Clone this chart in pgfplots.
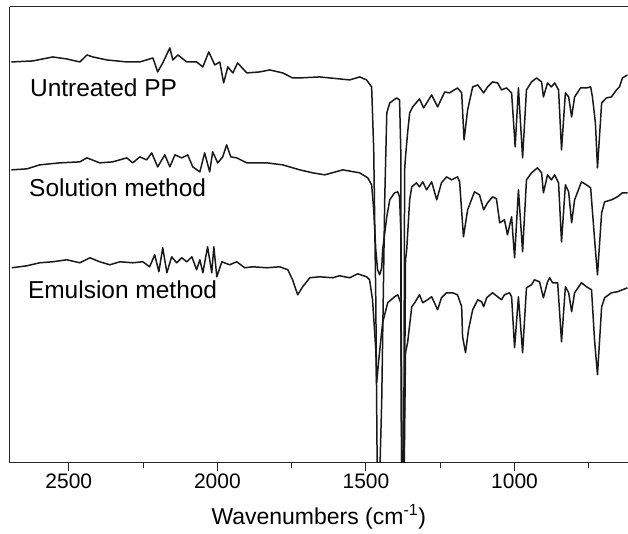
\documentclass[border=0pt]{standalone}
\usepackage{fontspec}
\setmainfont{Liberation Sans}
\usepackage{pgfplots}
\pgfplotsset{compat=1.18}

% FTIR spectra, y = offset transmittance (arbitrary units)
\begin{document}
\begin{tikzpicture}
\begin{axis}[
    name=ax,
    scale only axis,
    width=618pt, height=456pt,
    x dir=reverse,
    xmin=620, xmax=2698,
    ymin=0, ymax=456,
    axis x line=box, axis y line=left,
    axis line style={-, line width=1pt, black!85},
    ytick=\empty,
    xtick={1000,1500,2000,2500},
    minor xtick={750,1250,1750,2250},
    xtick pos=bottom,
    tick align=outside,
    major tick length=8pt, minor tick length=5pt,
    tick style={line width=1pt, black!85},
    /pgf/number format/set thousands separator={},
    /pgf/number format/assume math mode=true,
    xticklabel style={font=\fontsize{21}{24}\selectfont},
    xlabel={Wavenumbers (cm\textsuperscript{-1})},
    xlabel style={font=\fontsize{23}{26}\selectfont, yshift=-9pt},
    no markers,
    every axis plot post/.append style={line width=1.5pt, black!90, line join=round},
]
% Untreated PP
\addplot table {
2693 401
2621 402
2554 406
2507 404
2463 401
2439 408
2419 406
2372 403
2305 401
2261 401
2217 405
2201 391
2184 400
2160 415
2150 403
2133 408
2103 401
2070 401
2049 396
2029 411
2009 398
1992 401
1979 380
1965 396
1948 390
1932 400
1901 390
1858 391
1824 393
1780 390
1747 385
1723 385
1656 386
1555 383
1521 386
1498 383
1481 376
1474 313
1467 163
1462 -17
1454 -17
1447 63
1437 263
1430 350
1420 360
1397 365
1387 363
1383 313
1380 -17
1373 -17
1370 293
1367 306
1360 330
1353 350
1343 356
1320 364
1306 355
1279 368
1259 356
1235 371
1219 370
1192 375
1178 370
1170 323
1158 353
1141 376
1124 378
1104 370
1091 376
1074 381
1057 380
1044 373
1027 375
1010 370
998 316
987 375
973 305
960 373
943 381
926 385
909 381
903 366
889 380
876 376
865 380
852 373
842 313
829 370
818 366
808 346
798 366
778 375
758 375
744 376
738 366
728 340
721 295
707 360
691 365
674 366
657 373
647 376
637 385
620 388
};
% Solution method
\addplot table {
2693 293
2641 294
2598 298
2530 300
2463 301
2439 305
2396 300
2352 301
2305 305
2285 300
2261 306
2238 303
2221 310
2201 296
2177 308
2160 296
2143 308
2120 305
2100 308
2083 296
2059 291
2043 310
2026 291
2016 311
1999 300
1982 306
1969 318
1955 306
1935 305
1901 300
1834 300
1780 298
1723 293
1679 290
1639 288
1578 293
1521 290
1494 285
1481 278
1474 253
1467 213
1461 193
1454 188
1447 195
1444 213
1430 246
1420 263
1404 270
1393 271
1387 266
1383 233
1380 -17
1372 -17
1367 203
1363 213
1353 263
1346 276
1330 280
1320 276
1309 281
1296 273
1279 281
1262 263
1246 280
1229 286
1212 283
1192 286
1185 281
1172 226
1158 253
1135 271
1118 268
1104 253
1091 260
1074 266
1061 264
1050 240
1034 243
1024 228
1010 246
1000 205
987 273
973 211
960 283
943 290
923 295
909 290
903 270
889 288
876 283
865 288
852 280
842 221
829 278
818 271
808 240
798 263
775 281
758 278
744 275
734 236
728 213
721 188
707 250
697 261
674 263
654 266
637 270
620 270
};
% Emulsion method
\addplot table {
2692 195
2641 197
2598 200
2554 201
2507 203
2463 200
2429 205
2396 201
2362 198
2328 201
2285 200
2251 201
2228 196
2211 208
2197 191
2184 215
2170 190
2154 206
2137 200
2120 205
2103 201
2086 206
2070 193
2059 203
2049 190
2033 216
2019 190
2012 216
2002 186
1985 201
1959 198
1935 201
1908 195
1881 196
1834 195
1790 196
1763 193
1747 183
1730 168
1713 176
1689 185
1656 186
1612 185
1589 187
1555 185
1528 189
1498 186
1488 183
1478 163
1467 113
1464 80
1457 103
1444 140
1427 160
1404 166
1393 168
1383 160
1378 -17
1372 -17
1367 110
1360 120
1346 156
1336 160
1320 168
1309 160
1293 163
1279 166
1259 153
1246 165
1229 170
1209 170
1192 168
1178 156
1175 126
1165 110
1155 133
1141 153
1124 163
1111 161
1104 156
1094 165
1074 170
1057 166
1044 163
1034 168
1017 170
1010 166
1000 115
987 166
973 110
960 175
943 178
933 183
916 181
903 165
889 181
882 185
872 180
855 180
842 121
829 176
818 170
808 151
798 170
775 180
758 176
741 173
731 123
721 88
707 156
697 165
674 170
654 171
637 173
620 175
};
\node[anchor=base west, inner sep=0, font=\fontsize{24.5}{28}\selectfont] at (axis cs:2631,366) {Untreated PP};
\node[anchor=base west, inner sep=0, font=\fontsize{24.5}{28}\selectfont] at (axis cs:2634,266) {Solution method};
\node[anchor=base west, inner sep=0, font=\fontsize{24.5}{28}\selectfont] at (axis cs:2638,164) {Emulsion method};
\end{axis}
\path ([xshift=-10pt,yshift=-71pt]ax.south west) rectangle ([yshift=7pt]ax.north east);
\end{tikzpicture}
\end{document}
